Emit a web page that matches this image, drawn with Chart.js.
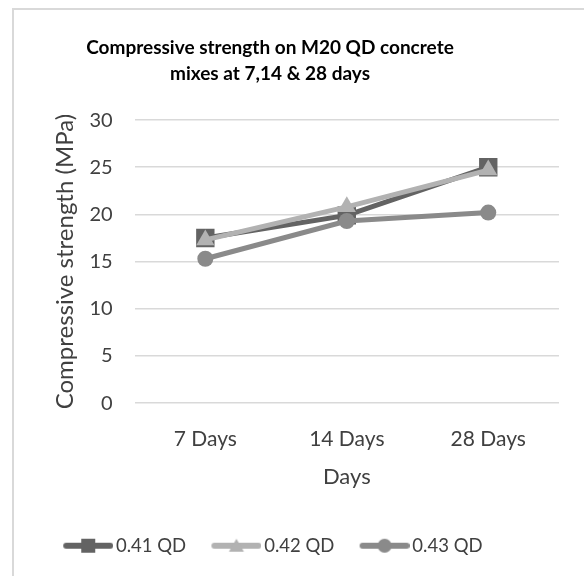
<!DOCTYPE html>
<html>
<head>
<meta charset="utf-8">
<script src="https://cdn.jsdelivr.net/npm/chart.js@4.4.0/dist/chart.umd.min.js"></script>
<style>
  body { margin: 0; background: #fff; }
  #wrap { position: relative; width: 584px; height: 576px; overflow: hidden; }
  #frame { position: absolute; left: 12px; top: 8px; width: 600px; height: 600px; border: 2px solid #d9d9d9; }
  #mycanvas { position: absolute; left: 0; top: 0; }
</style>
</head>
<body>
<div id="wrap">
  <div id="frame"></div>
  <canvas id="mycanvas" width="584" height="576"></canvas>
</div>
<script>
var days = ['7 Days', '14 Days', '28 Days'];
var qd41 = [17.5, 19.9, 25.0];
var qd42 = [17.3, 20.8, 24.7];
var qd43 = [15.3, 19.3, 20.2];
var seriesNames = ['0.41 QD', '0.42 QD', '0.43 QD'];
var yTicks = [0, 5, 10, 15, 20, 25, 30];

var colors = ['#636363', '#b2b2b2', '#8a8a8a'];
var shapes = ['rect', 'triangle', 'circle'];
var sizes = [13, 10.5, 8];

// legend swatch: line with marker, sitting at the right end of the image
function legendIcon(color, shape) {
    var c = document.createElement('canvas');
    c.width = 72; c.height = 20;
    var g = c.getContext('2d');
    g.strokeStyle = color;
    g.fillStyle = color;
    g.lineWidth = 6;
    g.lineCap = 'round';
    g.beginPath();
    g.moveTo(25, 10); g.lineTo(69, 10);
    g.stroke();
    g.beginPath();
    if (shape == 'rect') {
        g.fillRect(40, 3, 14, 14);
    } else if (shape == 'triangle') {
        g.moveTo(47, 3); g.lineTo(54.5, 16); g.lineTo(39.5, 16); g.closePath(); g.fill();
    } else {
        g.arc(47, 10, 7, 0, Math.PI * 2); g.fill();
    }
    return c;
}

var values = [qd41, qd42, qd43];
var datasets = [];
for (var i = 0; i < 3; i++) {
    datasets.push({
        label: seriesNames[i],
        data: values[i],
        order: 3 - i, // later series drawn on top, as in excel
        borderColor: colors[i],
        backgroundColor: colors[i],
        borderWidth: 5,
        pointStyle: shapes[i],
        pointRadius: sizes[i],
        pointHoverRadius: sizes[i],
        pointBorderWidth: 0,
        tension: 0
    });
}

// excel centres the title in the frame, not over the canvas
var titleShift = {
    id: 'titleShift',
    afterLayout: function (chart) {
        var t = chart.titleBlock;
        t.left = 38;
        t.right = 502;
        t.width = 464;
    }
};

var font = "Lato, 'Open Sans', sans-serif";
var textColor = '#404040';

var ctx = document.getElementById('mycanvas');
var mycanvas = new Chart(ctx, {
    type: 'line',
    data: { labels: days, datasets: datasets },
    plugins: [titleShift],
    options: {
        responsive: false,
        animation: false,
        layout: { padding: { left: 38, right: 25, top: 0, bottom: 11 } },
        plugins: {
            title: {
                display: true,
                text: ['Compressive strength on M20 QD concrete', 'mixes at 7,14 & 28 days'],
                color: '#000',
                font: { family: font, size: 19, weight: 'bold', lineHeight: 1.37 },
                padding: { top: 35, bottom: 33 }
            },
            legend: {
                position: 'bottom',
                align: 'start',
                labels: {
                    color: textColor,
                    font: { family: font, size: 18.5 },
                    usePointStyle: true,
                    pointStyleWidth: 59,
                    padding: 9.75,
                    generateLabels: function (chart) {
                        return chart.data.datasets.map(function (d, k) {
                            return {
                                text: d.label,
                                pointStyle: legendIcon(colors[k], shapes[k]),
                                fillStyle: colors[k],
                                strokeStyle: colors[k],
                                lineWidth: 0,
                                datasetIndex: k,
                                fontColor: textColor
                            };
                        });
                    }
                }
            },
            tooltip: { enabled: false }
        },
        scales: {
            x: {
                offset: true,
                grid: { display: false },
                border: { display: false },
                ticks: { color: textColor, font: { family: font, size: 21 }, padding: 15 },
                title: { display: true, text: 'Days', color: textColor, font: { family: font, size: 22 }, padding: { top: -3, bottom: 37 } }
            },
            y: {
                min: 0,
                max: 30,
                afterBuildTicks: function (axis) {
                    axis.ticks = yTicks.map(function (v) { return { value: v }; });
                },
                grid: { color: '#d9d9d9', lineWidth: 1.5, drawTicks: false },
                border: { display: false },
                ticks: { color: textColor, font: { family: font, size: 20 }, padding: 22 },
                title: { display: true, text: 'Compressive strength (MPa)', color: textColor, font: { family: font, size: 24, lineHeight: 0.2 }, padding: { top: 24.6, bottom: 0 } }
            }
        }
    }
});
</script>
</body>
</html>
